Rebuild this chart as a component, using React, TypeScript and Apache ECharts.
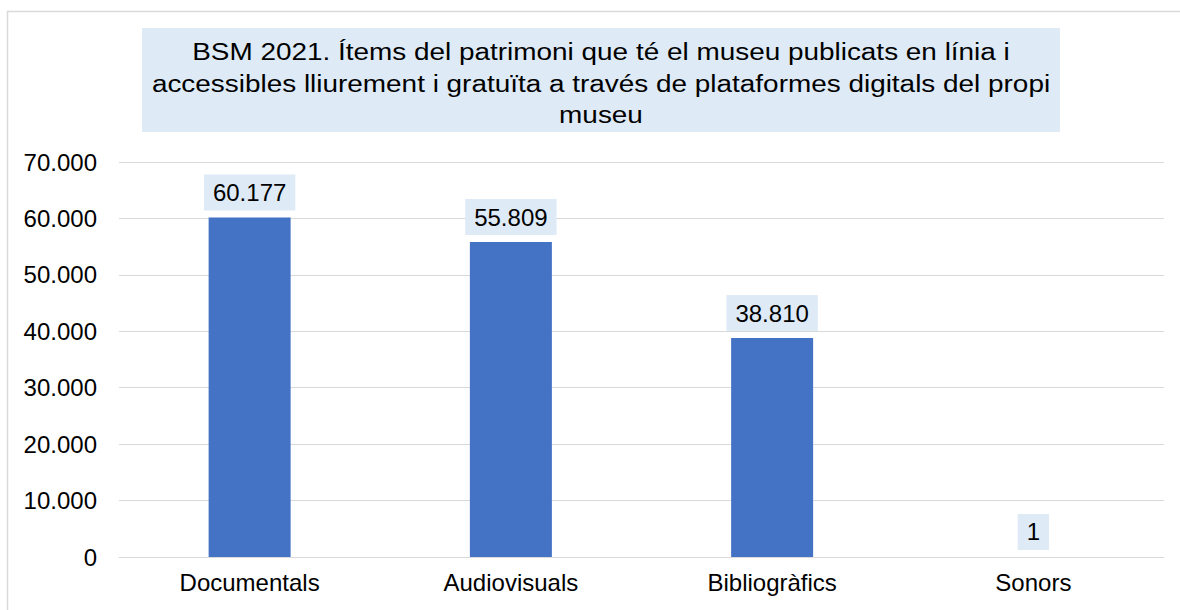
import React, { useEffect, useRef } from "react";
import * as echarts from "echarts";

const titleLines = [
  "BSM 2021. Ítems del patrimoni que té el museu publicats en línia i",
  "accessibles lliurement i gratuïta a través de plataformes digitals del propi",
  "museu",
];
const categories = ["Documentals", "Audiovisuals", "Bibliogràfics", "Sonors"];
const values = [60177, 55809, 38810, 1];
const yMin = 0;
const yMax = 70000;
const yInterval = 10000;

const FONT = "'Liberation Sans', Arial, sans-serif";
const fmt = (v: number) => String(Math.round(v)).replace(/\B(?=(\d{3})+(?!\d))/g, ".");

export default function App() {
  const ref = useRef<HTMLDivElement>(null);
  useEffect(() => {
    if (!ref.current) return;
    const chart = echarts.init(ref.current, null, { renderer: "svg" });
    chart.setOption({
      animation: false,
      backgroundColor: "#ffffff",
      textStyle: { fontFamily: FONT },
      grid: { left: 119, right: 16, top: 162, bottom: 53, containLabel: false },
      graphic: [
        {
          type: "rect",
          shape: { x: 7.5, y: 11.5, width: 1300, height: 800 },
          style: { fill: "none", stroke: "#d9d9d9", lineWidth: 1.5 },
          silent: true,
        },
        {
          type: "rect",
          shape: { x: 142, y: 28, width: 918, height: 104 },
          style: { fill: "#deebf7" },
          silent: true,
        },
        {
          type: "text",
          x: 601,
          y: 36,
          scaleX: 1.188,
          style: {
            text: titleLines.join("\n"),
            fill: "#000000",
            fontSize: 23.5,
            fontFamily: FONT,
            lineHeight: 31.6,
            align: "center",
            verticalAlign: "top",
            textAlign: "center",
            textVerticalAlign: "top",
          },
          silent: true,
        },
      ],
      xAxis: {
        type: "category",
        data: categories,
        axisLine: { show: true, lineStyle: { color: "#d9d9d9", width: 1 } },
        axisTick: { show: false },
        axisLabel: { color: "#000000", fontSize: 24, fontFamily: FONT, margin: 13 },
      },
      yAxis: {
        type: "value",
        min: yMin,
        max: yMax,
        interval: yInterval,
        axisLine: { show: false },
        axisTick: { show: false },
        splitLine: { lineStyle: { color: "#d9d9d9", width: 1 } },
        axisLabel: {
          color: "#000000",
          fontSize: 24,
          fontFamily: FONT,
          margin: 22,
          formatter: (v: number) => fmt(v),
        },
      },
      series: [
        {
          type: "bar",
          data: values,
          barWidth: 82,
          itemStyle: { color: "#4472c4" },
          label: {
            show: true,
            position: "top",
            distance: 7,
            color: "#000000",
            fontSize: 24,
            fontFamily: FONT,
            lineHeight: 26,
            backgroundColor: "#deebf7",
            padding: [5, 9, 5, 9],
            formatter: (p: any) => fmt(p.value),
          },
        },
      ],
    });
    return () => chart.dispose();
  }, []);
  return (
    <div
      ref={ref}
      style={{ position: "absolute", left: 0, top: 0, width: 1180, height: 610 }}
    />
  );
}
